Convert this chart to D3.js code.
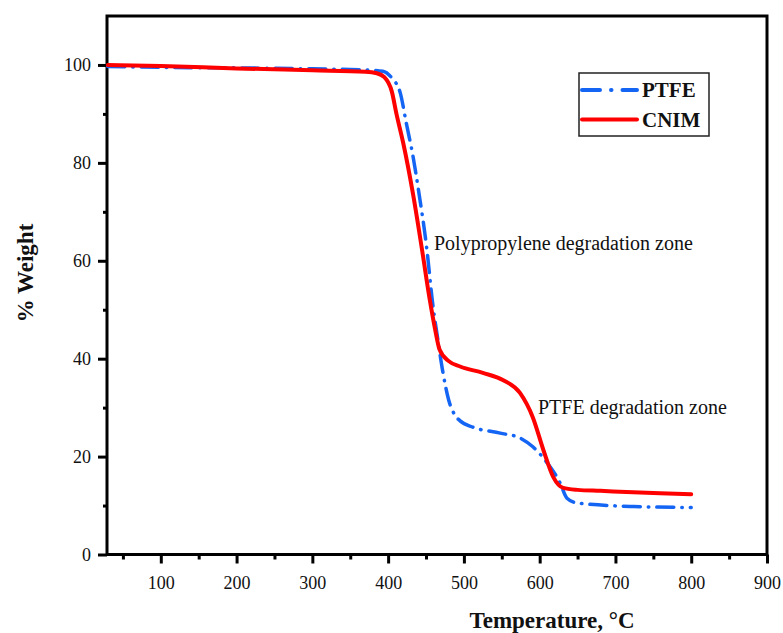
<!DOCTYPE html>
<html>
<head>
<meta charset="utf-8">
<script src="https://cdn.jsdelivr.net/npm/d3@7"></script>
<style>
  body { margin: 0; background: #fff; }
  text { font-family: "Liberation Serif", "Times New Roman", serif; }
</style>
</head>
<body>
<svg id="chart" width="783" height="633"></svg>
<script>
// Data
const ptfeTemp = [30, 100, 200, 300, 370, 393, 405, 416, 424, 433, 440, 451, 459, 466, 472, 480, 488, 495, 512, 548, 574, 591, 610, 627, 636, 650, 724, 800];
const ptfeWeight = [99.7, 99.5, 99.4, 99.2, 99.0, 98.7, 97.3, 94.3, 88.1, 81.2, 74.5, 62.5, 51, 43.5, 37.5, 31.5, 28.5, 27.3, 26, 24.8, 23.8, 22, 18.7, 14.6, 11.5, 10.5, 9.8, 9.6];

const cnimTemp = [30, 100, 200, 300, 370, 385, 395, 405, 411, 420, 433, 445, 455, 462, 468, 480, 495, 525, 552, 574, 591, 605, 618, 631, 650, 680, 759, 800];
const cnimWeight = [100, 99.8, 99.3, 98.9, 98.6, 98.3, 97.5, 94.5, 90, 84, 73.5, 62, 52, 46, 41.8, 39.5, 38.4, 37.1, 35.6, 33, 28, 21.3, 15.8, 13.6, 13.2, 13.0, 12.5, 12.3];

const xTicks = [100, 200, 300, 400, 500, 600, 700, 800, 900];
const xMinor = [50, 150, 250, 350, 450, 550, 650, 750, 850];
const yTicks = [0, 20, 40, 60, 80, 100];
const yMinor = [10, 30, 50, 70, 90];

const series = [
  { name: 'PTFE', temp: ptfeTemp, weight: ptfeWeight, color: '#1565f5', dash: '17,8,0.5,8' },
  { name: 'CNIM', temp: cnimTemp, weight: cnimWeight, color: '#ff0000', dash: null }
];

const width = 783, height = 633;
const margin = { top: 16, right: 16, bottom: 78.5, left: 107 };

const svg = d3.select('#chart');

const x = d3.scaleLinear().domain([29, 900]).range([margin.left, width - margin.right]);
const y = d3.scaleLinear().domain([0, 110]).range([height - margin.bottom, margin.top]);

// Axes
svg.append('g')
  .attr('transform', 'translate(0,' + (height - margin.bottom) + ')')
  .call(d3.axisBottom(x).tickValues(xTicks).tickSize(9).tickPadding(13).tickFormat(d3.format('d')));
svg.append('g')
  .attr('transform', 'translate(0,' + (height - margin.bottom) + ')')
  .call(d3.axisBottom(x).tickValues(xMinor).tickSize(5).tickFormat(''));

svg.append('g')
  .attr('transform', 'translate(' + margin.left + ',0)')
  .call(d3.axisLeft(y).tickValues(yTicks).tickSize(9).tickPadding(7).tickFormat(d3.format('d')));
svg.append('g')
  .attr('transform', 'translate(' + margin.left + ',0)')
  .call(d3.axisLeft(y).tickValues(yMinor).tickSize(4).tickFormat(''));

svg.selectAll('.tick line').attr('stroke', '#000').attr('stroke-width', 3);
svg.selectAll('.domain').remove();
svg.selectAll('.tick text').attr('font-size', 18).attr('fill', '#111')
  .attr('font-family', '"Liberation Serif", serif');

// Frame
svg.append('rect')
  .attr('x', margin.left)
  .attr('y', margin.top)
  .attr('width', width - margin.left - margin.right)
  .attr('height', height - margin.top - margin.bottom)
  .attr('fill', 'none')
  .attr('stroke', '#000')
  .attr('stroke-width', 3);

// Lines
const line = d3.line()
  .x(d => x(d[0]))
  .y(d => y(d[1]))
  .curve(d3.curveMonotoneX);

series.forEach(s => {
  const pts = s.temp.map((t, i) => [t, s.weight[i]]);
  svg.append('path')
    .datum(pts)
    .attr('d', line)
    .attr('fill', 'none')
    .attr('stroke', s.color)
    .attr('stroke-width', s.dash ? 3.5 : 4)
    .attr('stroke-linecap', 'round')
    .attr('stroke-dasharray', s.dash);
});

// Legend
const legend = svg.append('g').attr('transform', 'translate(579,73)');
legend.append('rect')
  .attr('width', 130).attr('height', 63)
  .attr('fill', '#fff').attr('stroke', '#222').attr('stroke-width', 1.5);
series.forEach((s, i) => {
  const ly = 17 + i * 29.5;
  legend.append('line')
    .attr('x1', 3).attr('x2', 58).attr('y1', ly).attr('y2', ly)
    .attr('stroke', s.color).attr('stroke-width', 4)
    .attr('stroke-linecap', 'round')
    .attr('stroke-dasharray', s.dash ? '18,11,0.5,11' : null);
  legend.append('text')
    .attr('x', 63).attr('y', ly + 7)
    .attr('font-size', 21).attr('font-weight', 'bold').attr('fill', '#111')
    .text(s.name);
});

// Annotations
svg.append('text')
  .attr('x', 434).attr('y', 250)
  .attr('font-size', 20).attr('fill', '#111')
  .text('Polypropylene degradation zone');
svg.append('text')
  .attr('x', 538).attr('y', 414)
  .attr('font-size', 20).attr('fill', '#111')
  .text('PTFE degradation zone');

// Axis titles
svg.append('text')
  .attr('x', 552).attr('y', 628)
  .attr('text-anchor', 'middle')
  .attr('font-size', 23).attr('font-weight', 'bold').attr('fill', '#111')
  .text('Temperature, °C');
svg.append('text')
  .attr('transform', 'translate(33,273) rotate(-90)')
  .attr('text-anchor', 'middle')
  .attr('font-size', 23).attr('font-weight', 'bold').attr('fill', '#111')
  .text('% Weight');
</script>
</body>
</html>
